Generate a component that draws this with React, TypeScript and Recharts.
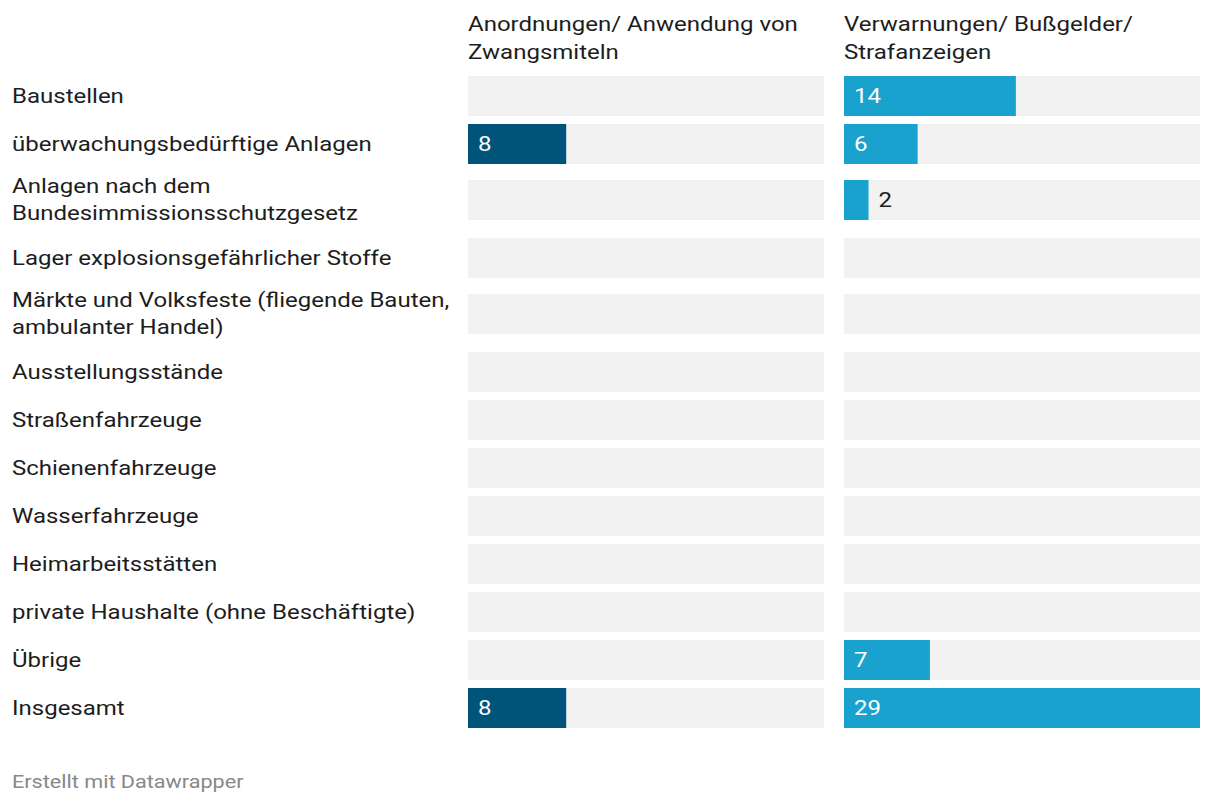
import React from 'react'
import { BarChart, Bar, XAxis, YAxis, LabelList, CartesianGrid } from 'recharts'

const categories = [
  'Baustellen',
  'überwachungsbedürftige Anlagen',
  'Anlagen nach dem Bundesimmissionsschutzgesetz',
  'Lager explosionsgefährlicher Stoffe',
  'Märkte und Volksfeste (fliegende Bauten, ambulanter Handel)',
  'Ausstellungsstände',
  'Straßenfahrzeuge',
  'Schienenfahrzeuge',
  'Wasserfahrzeuge',
  'Heimarbeitsstätten',
  'private Haushalte (ohne Beschäftigte)',
  'Übrige',
  'Insgesamt',
]

// row top positions (two-line labels push the rows apart)
const rowTops = [76, 124, 180, 238, 294, 352, 400, 448, 496, 544, 592, 640, 688]

const anordnungen: (number | null)[] = [null, 8, null, null, null, null, null, null, null, null, null, null, 8]
const verwarnungen: (number | null)[] = [14, 6, 2, null, null, null, null, null, null, null, null, 7, 29]

const columns = [
  { title: 'Anordnungen/ Anwendung von Zwangsmiteln', values: anordnungen, color: '#005479', left: 468 },
  { title: 'Verwarnungen/ Bußgelder/ Strafanzeigen', values: verwarnungen, color: '#1aa2cf', left: 844 },
]

const MAX = 29
const COL_W = 356
const ROW_H = 40
const FONT = 'Roboto, sans-serif'
// the reference text is drawn a bit wider than plain Roboto
const STRETCH = 1.2

const stretched: React.CSSProperties = { display: 'inline-block', transform: `scaleX(${STRETCH})`, transformOrigin: 'left center' }

function ValueLabel(props: any) {
  const { x, y, width, height, value } = props
  if (!value) return null
  const inside = width > 40
  const tx = inside ? x + 10 : x + width + 10
  return (
    <text
      transform={`translate(${tx},${y + height / 2}) scale(${STRETCH},1)`}
      dy="0.36em"
      fill={inside ? '#ffffff' : '#1d1d1d'}
      fontSize={20}
      fontFamily={FONT}
    >
      {value}
    </text>
  )
}

function RowBar({ value, color }: { value: number | null; color: string }) {
  const data = [{ name: 'v', value }]
  return (
    <BarChart width={COL_W} height={ROW_H} data={data} layout="vertical" barCategoryGap="0%" barGap={0}
      margin={{ top: 0, right: 0, left: 0, bottom: 0 }}>
      <CartesianGrid horizontal={false} vertical={false} fill="#f2f2f2" stroke="none" />
      <XAxis type="number" domain={[0, MAX]} hide />
      <YAxis type="category" dataKey="name" hide padding={{ top: 0, bottom: 0 }} />
      <Bar dataKey="value" fill={color} isAnimationActive={false}>
        <LabelList dataKey="value" content={<ValueLabel />} />
      </Bar>
    </BarChart>
  )
}

export default function App() {
  return (
    <div style={{ position: 'absolute', left: 0, top: 0, width: 1220, height: 804, background: '#fff', fontFamily: FONT, color: '#1d1d1d' }}>
      {columns.map(c => (
        <div key={c.title} style={{ position: 'absolute', left: c.left, top: 10, fontSize: 20, lineHeight: '28px' }}>
          <span style={{ ...stretched, width: 296 }}>{c.title}</span>
        </div>
      ))}
      {categories.map((cat, i) => (
        <React.Fragment key={cat}>
          <div style={{
            position: 'absolute', left: 12, top: rowTops[i] - 20, height: ROW_H + 40, width: 450,
            display: 'flex', alignItems: 'center', fontSize: 20, lineHeight: '27px',
          }}>
            <span style={{ ...stretched, width: 372 }}>{cat}</span>
          </div>
          {columns.map(c => (
            <div key={c.title} style={{ position: 'absolute', left: c.left, top: rowTops[i] }}>
              <RowBar value={c.values[i]} color={c.color} />
            </div>
          ))}
        </React.Fragment>
      ))}
      <div style={{ position: 'absolute', left: 12, top: 770, fontSize: 18, color: '#888', lineHeight: '24px' }}>
        <span style={stretched}>Erstellt mit Datawrapper</span>
      </div>
    </div>
  )
}
